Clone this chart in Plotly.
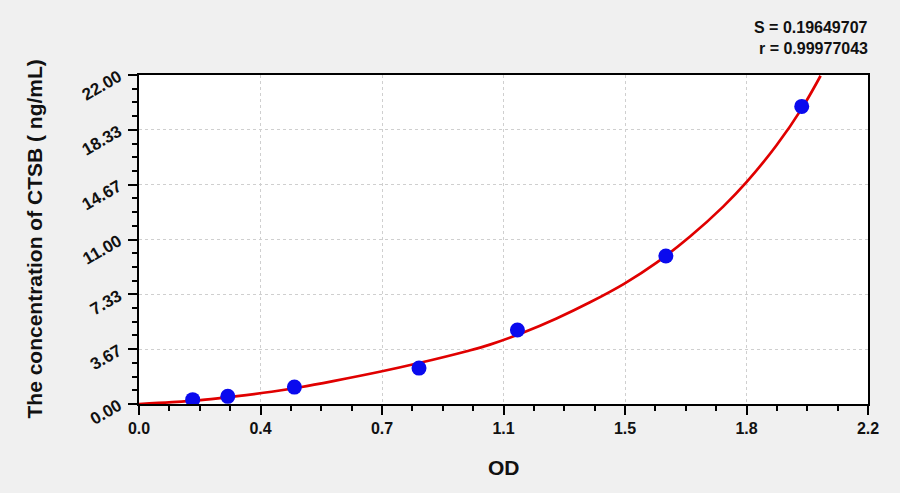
import plotly.graph_objects as go

# Standard points (OD, concentration)
od_points = [0.162, 0.268, 0.469, 0.845, 1.142, 1.590, 2.000]
conc_points = [0.29, 0.51, 1.13, 2.40, 4.95, 9.90, 19.90]

# Fitted curve
curve_od = [0.0, 0.10, 0.20, 0.29, 0.40, 0.486, 0.586, 0.73, 0.845, 0.989, 1.059,
            1.16, 1.26, 1.361, 1.465, 1.562, 1.663, 1.763, 1.834, 1.924, 2.00, 2.057]
curve_conc = [0.0, 0.12, 0.29, 0.51, 0.82, 1.12, 1.53, 2.17, 2.74, 3.53, 3.97,
              4.78, 5.72, 6.80, 8.05, 9.45, 11.20, 13.20, 14.85, 17.30, 19.75, 21.95]

x_tick_vals = [0.0, 2.2/6, 2*2.2/6, 1.1, 4*2.2/6, 5*2.2/6, 2.2]
x_tick_text = ["0.0", "0.4", "0.7", "1.1", "1.5", "1.8", "2.2"]
y_tick_vals = [0.0, 22/6, 2*22/6, 11.0, 4*22/6, 5*22/6, 22.0]
y_tick_text = ["0.00", "3.67", "7.33", "11.00", "14.67", "18.33", "22.00"]

stat_lines = ["S = 0.19649707", "r = 0.99977043"]
x_title = "OD"
y_title = "The concentration of CTSB ( ng/mL)"

font_family = "Liberation Sans, Arial, sans-serif"
text_color = "#111111"

fig = go.Figure()
fig.add_trace(go.Scatter(
    x=curve_od, y=curve_conc, mode="lines",
    line=dict(color="#e00000", width=2.7, shape="spline", smoothing=1.0),
    hoverinfo="skip", showlegend=False,
))
fig.add_trace(go.Scatter(
    x=od_points, y=conc_points, mode="markers",
    marker=dict(color="#0a0aee", size=15, line=dict(width=0)),
    showlegend=False,
))

axis_common = dict(
    showline=True, linecolor="black", linewidth=1.6, mirror=True,
    ticks="outside", ticklen=9, tickwidth=1.5, tickcolor="black",
    showgrid=True, gridcolor="#cfcfcf", griddash="dot", gridwidth=1,
    zeroline=False,
)

fig.update_xaxes(
    range=[0, 2.2], tickmode="array", tickvals=x_tick_vals, ticktext=x_tick_text,
    tickfont=dict(family=font_family, size=16, color=text_color, weight="bold"),
    minor=dict(tick0=0, dtick=2.2/24, ticks="outside", ticklen=5, tickwidth=1.5,
               tickcolor="black", showgrid=False),
    **axis_common,
)
fig.update_yaxes(
    range=[0, 22], tickmode="array", tickvals=y_tick_vals, ticktext=y_tick_text,
    tickangle=-30, ticklabelstandoff=6,
    tickfont=dict(family=font_family, size=17, color=text_color, weight="bold"),
    minor=dict(tick0=0, dtick=22/24, ticks="outside", ticklen=5, tickwidth=1.5,
               tickcolor="black", showgrid=False),
    **axis_common,
)

fig.update_layout(
    width=900, height=493,
    margin=dict(l=139, r=32, t=75, b=89),
    paper_bgcolor="#f0f0f0", plot_bgcolor="white",
    font=dict(family=font_family, color=text_color),
    annotations=[
        dict(text=stat_lines[0], x=1.0, y=1.0, xref="paper", yref="paper",
             xanchor="right", yanchor="middle", yshift=48, xshift=2, showarrow=False,
             font=dict(size=16, family=font_family, color=text_color, weight="bold")),
        dict(text=stat_lines[1], x=1.0, y=1.0, xref="paper", yref="paper",
             xanchor="right", yanchor="middle", yshift=27, xshift=2, showarrow=False,
             font=dict(size=16, family=font_family, color=text_color, weight="bold")),
        dict(text=x_title, x=0.5, y=0, xref="paper", yref="paper",
             xanchor="center", yanchor="middle", yshift=-63, showarrow=False,
             font=dict(size=21, family=font_family, color=text_color, weight="bold")),
        dict(text=y_title, x=0, y=0.5, xref="paper", yref="paper",
             xanchor="center", yanchor="middle", xshift=-105, textangle=-90, showarrow=False,
             font=dict(size=21, family=font_family, color=text_color, weight="bold")),
    ],
)

fig.write_html("out.html", config={"displayModeBar": False},
               post_script="document.body.style.margin='0';document.body.style.background='#f0f0f0';")
